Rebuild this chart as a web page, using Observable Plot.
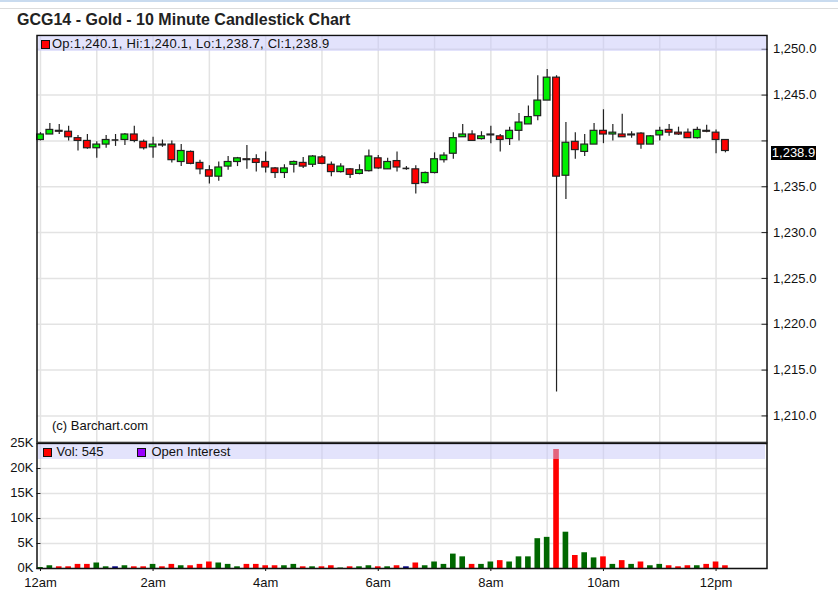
<!DOCTYPE html>
<html><head><meta charset="utf-8">
<script src="https://cdn.jsdelivr.net/npm/d3@7"></script>
<script src="https://cdn.jsdelivr.net/npm/@observablehq/plot@0.6"></script>
<style>
body{margin:0;background:#fff;font-family:"Liberation Sans",Arial,sans-serif;color:#111;}
#wrap{position:relative;width:838px;height:603px;overflow:hidden;background:#fff;}
.abs{position:absolute;white-space:nowrap;}
.sq{position:absolute;width:9px;height:9px;border:1px solid #111;box-sizing:border-box;}
.band{position:absolute;background:rgba(200,200,250,0.5);}
</style></head><body><div id="wrap"></div>
<script>
const title = "GCG14 - Gold - 10 Minute Candlestick Chart";
const barMinutes = 10;
const opens = [1240.1,1240.7,1241.1,1241.0,1240.3,1240.0,1239.2,1239.6,1240.1,1240.1,
1240.7,1239.9,1239.3,1239.6,1239.6,1237.7,1238.8,1237.6,1236.8,1236.1,
1237.2,1237.7,1238.0,1238.0,1237.7,1237.0,1236.5,1237.4,1237.6,1237.4,
1238.2,1237.4,1236.6,1236.9,1236.4,1236.7,1238.1,1236.9,1237.8,1237.0,
1236.9,1235.4,1236.5,1237.9,1238.6,1240.4,1240.7,1240.2,1240.6,1240.5,
1240.2,1241.1,1241.8,1242.7,1244.4,1246.9,1236.2,1239.9,1238.8,1239.6,
1241.1,1240.7,1240.7,1240.6,1240.8,1239.6,1240.6,1241.2,1240.9,1240.9,
1240.3,1241.1,1240.9,1240.1];
const highs = [1240.9,1241.9,1241.8,1241.6,1240.6,1240.7,1239.9,1240.6,1240.7,1240.8,
1241.6,1240.1,1240.4,1240.1,1240.0,1239.6,1238.9,1237.9,1237.3,1237.7,
1238.3,1238.2,1239.5,1238.5,1238.8,1237.1,1237.4,1237.8,1238.2,1238.4,
1238.4,1237.7,1237.5,1237.0,1237.4,1239.0,1238.4,1238.1,1238.8,1237.2,
1237.3,1236.6,1238.7,1238.7,1240.9,1241.8,1241.1,1241.0,1241.6,1240.7,
1241.5,1243.0,1243.8,1247.1,1247.8,1247.1,1242.0,1240.9,1240.7,1241.9,
1243.4,1241.8,1242.9,1241.0,1240.9,1240.6,1241.5,1241.8,1241.5,1241.3,
1241.5,1241.7,1241.2,1240.1];
const lows = [1240.0,1240.7,1240.7,1240.0,1238.9,1239.1,1238.1,1239.2,1239.4,1239.5,
1239.8,1239.0,1238.1,1239.3,1237.6,1237.2,1237.4,1236.3,1235.3,1235.6,
1236.8,1237.2,1236.9,1236.6,1236.5,1235.9,1235.9,1236.5,1237.0,1237.1,
1237.4,1236.1,1236.5,1235.9,1236.3,1236.6,1236.9,1236.9,1236.6,1236.8,
1234.2,1235.3,1236.4,1237.6,1238.0,1240.4,1240.0,1240.1,1239.7,1238.8,
1239.5,1240.0,1241.8,1242.2,1244.4,1212.6,1233.6,1238.0,1238.3,1239.6,
1239.7,1240.0,1240.4,1240.3,1239.1,1239.6,1240.0,1240.5,1240.6,1240.3,
1240.2,1240.9,1238.6,1238.7];
const closes = [1240.7,1241.2,1241.0,1240.4,1240.0,1239.2,1239.6,1240.1,1240.1,1240.7,
1240.0,1239.2,1239.6,1239.5,1237.9,1238.9,1237.5,1236.9,1236.1,1237.1,
1237.7,1238.1,1237.9,1237.6,1237.1,1236.5,1237.0,1237.7,1237.2,1238.3,
1237.5,1236.6,1237.2,1236.3,1236.8,1238.3,1237.0,1237.7,1237.1,1237.0,
1235.3,1236.5,1238.0,1238.4,1240.3,1240.7,1240.0,1240.5,1240.7,1240.1,
1241.1,1242.0,1242.6,1244.4,1246.9,1236.1,1239.8,1239.0,1239.6,1241.1,
1240.7,1240.9,1240.4,1240.7,1239.6,1240.5,1241.1,1240.9,1240.7,1240.3,
1241.2,1241.0,1240.1,1238.9];
const volumes = [200,550,340,340,820,820,1100,340,340,550,
340,340,820,340,820,550,550,820,1300,1100,
820,340,820,820,550,550,550,820,340,340,
340,550,100,340,340,550,340,340,550,340,
1100,550,1300,820,2880,2330,820,820,1300,1575,
1300,2330,2330,5960,6230,23800,7260,2600,3150,2120,
2330,820,1575,820,1300,550,820,550,340,550,
550,820,1300,545];

const priceTicks = [1210,1215,1220,1225,1230,1235,1240,1245,1250];
const priceLabelTicks = [1210,1215,1220,1225,1230,1235,1245,1250];
const hourTicks = [0,60,120,180,240,300,360,420,480,540,600,660,720];
const timeTickValues = [0,120,240,360,480,600,720];
const timeTickLabels = ["12am","2am","4am","6am","8am","10am","12pm"];
const volTicks = [0,5000,10000,15000,20000,25000];
const volTickLabels = ["0K","5K","10K","15K","20K","25K"];
const lastPrice = 1238.9;
const lastPriceLabel = "1,238.9";
const legendPrice = "Op:1,240.1, Hi:1,240.1, Lo:1,238.7, Cl:1,238.9";
const legendVol = "Vol: 545";
const legendOI = "Open Interest";
const copyright = "(c) Barchart.com";

const candles = opens.map((o, i) => ({t: i * barMinutes, open: o, high: highs[i], low: lows[i], close: closes[i], volume: volumes[i]}));

const xDomain = [-3.7, 774.3];
const font = "Liberation Sans, Arial, sans-serif";
const grid = {stroke: "#e3e3e3", strokeWidth: 1.5};
const wrap = document.getElementById("wrap");

function add(html, css) {
  const d = document.createElement("div");
  d.className = "abs";
  Object.assign(d.style, css);
  if (html !== null) d.textContent = html;
  wrap.appendChild(d);
  return d;
}

// top decorations
add("", {left: "0px", top: "0px", width: "838px", height: "2px", background: "#c9dbef"});
add("", {left: "0px", top: "8px", width: "838px", height: "1px", background: "#dcdcdc"});
add(title, {left: "17px", top: "11px", fontSize: "16px", fontWeight: "bold", lineHeight: "18px", color: "#222"});

const price = Plot.plot({
  width: 838, height: 412,
  marginLeft: 36.5, marginRight: 71.5, marginTop: 5, marginBottom: 0,
  x: {domain: xDomain, axis: null},
  y: {domain: [1207.1, 1251.5]},
  style: {fontFamily: font, fontSize: "13px", color: "#111", background: "transparent", overflow: "visible"},
  marks: [
    Plot.ruleX(hourTicks, {x: d => d, ...grid}),
    Plot.ruleY(priceTicks, {y: d => d, ...grid}),
    Plot.ruleX(candles, {x: "t", y1: "low", y2: "high", stroke: "#222", strokeWidth: 1.2}),
    Plot.rect(candles, {x1: d => d.t - 3.6, x2: d => d.t + 3.6, y1: "open", y2: "close",
      fill: d => d.close >= d.open ? "#00ee00" : "#ff0000", stroke: "#222", strokeWidth: 1.2}),
    Plot.ruleY(candles.filter(d => d.open === d.close), {y: "close", x1: d => d.t - 3.6, x2: d => d.t + 3.6, stroke: "#222", strokeWidth: 1.6}),
    Plot.axisY(priceLabelTicks, {anchor: "right", tickSize: 0, tickPadding: 6, tickFormat: ",.1f", label: null, fontSize: 13}),
    Plot.axisY(priceTicks, {anchor: "right", tickSize: 6, dx: -6, tickFormat: () => "", label: null, stroke: "#222"}),
    Plot.frame({stroke: "#111", strokeWidth: 1.5})
  ]
});
price.style.position = "absolute";
price.style.left = "0px";
price.style.top = "30px";
wrap.appendChild(price);

const vol = Plot.plot({
  width: 838, height: 161,
  marginLeft: 36.5, marginRight: 71.5, marginTop: 1, marginBottom: 35,
  x: {domain: xDomain},
  y: {domain: [0, 25000]},
  style: {fontFamily: font, fontSize: "13px", color: "#111", background: "transparent", overflow: "visible"},
  marks: [
    Plot.ruleX(hourTicks, {x: d => d, ...grid}),
    Plot.ruleY(volTicks, {y: d => d, ...grid}),
    Plot.rect(candles, {x1: d => d.t - 3, x2: d => d.t + 3, y1: 0, y2: "volume",
      fill: d => d.close > d.open ? "#006700" : d.close < d.open ? "#ff0000" : "#000080"}),
    Plot.axisX(timeTickValues, {tickSize: 3, tickPadding: 6, tickFormat: d => timeTickLabels[timeTickValues.indexOf(d)], label: null, fontSize: 13}),
    Plot.axisY(volTicks, {anchor: "left", tickSize: 0, tickPadding: 3.5, dy: -1, tickFormat: d => volTickLabels[volTicks.indexOf(d)], label: null, fontSize: 13}),
    Plot.axisY(volTicks, {anchor: "left", tickSize: 4, dx: 4, tickFormat: () => "", label: null, stroke: "#222"}),
    Plot.frame({stroke: "#111", strokeWidth: 1.5})
  ]
});
vol.style.position = "absolute";
vol.style.left = "0px";
vol.style.top = "442px";
wrap.appendChild(vol);

// legend bands (semi-transparent, drawn over the plots)
const b1 = document.createElement("div"); b1.className = "band";
Object.assign(b1.style, {left: "37.5px", top: "36px", width: "728px", height: "15px"}); wrap.appendChild(b1);
const b2 = document.createElement("div"); b2.className = "band";
Object.assign(b2.style, {left: "37.5px", top: "443.5px", width: "727px", height: "15.5px"}); wrap.appendChild(b2);

function square(left, top, color) {
  const s = document.createElement("div"); s.className = "sq";
  Object.assign(s.style, {left: left + "px", top: top + "px", background: color});
  wrap.appendChild(s);
}
square(41, 39.5, "#ff0000");
add(legendPrice, {left: "52px", top: "36px", fontSize: "13px", lineHeight: "15px", letterSpacing: "0.25px", color: "#111"});
square(43, 448, "#ff0000");
add(legendVol, {left: "56.5px", top: "444px", fontSize: "13px", lineHeight: "15px", color: "#111"});
square(137, 448, "#9900ff");
add(legendOI, {left: "151.5px", top: "444px", fontSize: "13px", lineHeight: "15px", color: "#111"});
add(copyright, {left: "52px", top: "417.5px", fontSize: "13px", lineHeight: "15px", color: "#111"});

// last price box on the right axis
const yLast = 30 + price.scale("y").apply(lastPrice);
add(lastPriceLabel, {left: "771px", top: (yLast - 4.5) + "px", width: "45px", height: "13.5px", lineHeight: "13.5px",
  background: "#000", color: "#fff", fontSize: "13px", textAlign: "center"});
</script></body></html>
